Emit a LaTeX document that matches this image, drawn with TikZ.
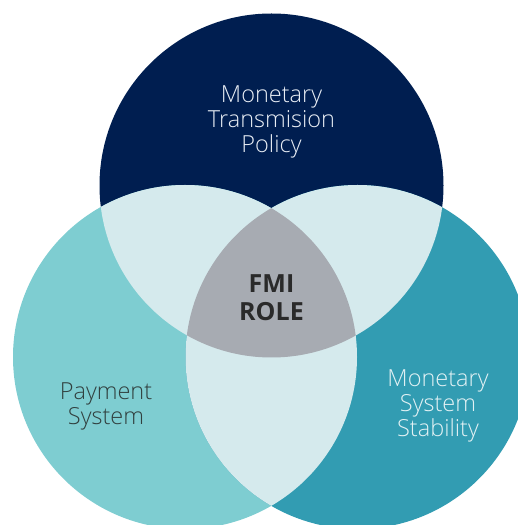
\documentclass[tikz,border=0pt]{standalone}
\usepackage{fontspec}
\setmainfont{Open Sans}
\newfontfamily\lightfont{Open Sans Light}
\definecolor{navy}{HTML}{001E50}
\definecolor{paleteal}{HTML}{7ECDD1}
\definecolor{deepteal}{HTML}{329CB2}
\definecolor{overlap}{HTML}{D5EAED}
\definecolor{core}{HTML}{A7ABB2}
\definecolor{toptext}{HTML}{E9EEF5}
\definecolor{lefttext}{HTML}{31403F}
\definecolor{righttext}{HTML}{E2F1F4}
\definecolor{coretext}{HTML}{2A2A2A}
\tikzset{
  label text/.style={align=center, font=\lightfont\fontsize{23.5}{25}\selectfont},
  core text/.style={align=center, text=coretext, font=\bfseries\fontsize{25}{28.5}\selectfont}
}

\begin{document}
\begin{tikzpicture}[x=1pt, y=1pt]
	\useasboundingbox (0,0) rectangle (518,525);
	\clip (0,0) rectangle (518,525);
	\def\rad{172}

	\coordinate (ctop) at (271.5,339.5);
	\coordinate (cleft) at (185,168);
	\coordinate (cright) at (357.5,168);

	% the three sets
	\fill[navy] (ctop) circle (\rad);
	\fill[paleteal] (cleft) circle (\rad);
	\fill[deepteal] (cright) circle (\rad);

	% pairwise overlaps
	\begin{scope}
		\clip (ctop) circle (\rad);
		\fill[overlap] (cleft) circle (\rad);
		\fill[overlap] (cright) circle (\rad);
	\end{scope}
	\begin{scope}
		\clip (cleft) circle (\rad);
		\fill[overlap] (cright) circle (\rad);
	\end{scope}

	% common part
	\begin{scope}
		\clip (ctop) circle (\rad);
		\clip (cleft) circle (\rad);
		\fill[core] (cright) circle (\rad);
	\end{scope}

	\node[label text, text=toptext] (policy) at (271.5,403) {Monetary\\Transmision\\Policy};
	\node[label text, text=lefttext] (payment) at (106,119) {Payment\\System};
	\node[label text, text=righttext] (stability) at (438,119) {Monetary\\System\\Stability};
	\node[core text] (fmi) at (271.5,227.5) {FMI\\ROLE};
\end{tikzpicture}
\end{document}
